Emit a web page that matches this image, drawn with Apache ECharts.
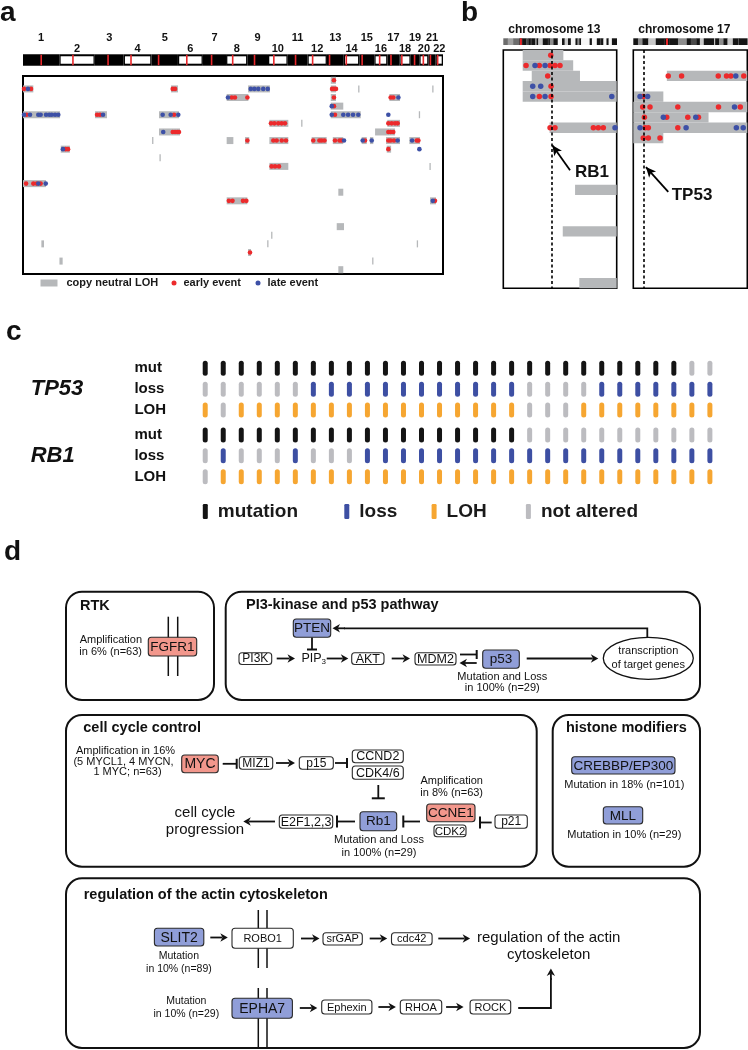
<!DOCTYPE html>
<html><head><meta charset="utf-8">
<script src="https://cdn.jsdelivr.net/npm/echarts@6/dist/echarts.min.js"></script>
<style>html,body{margin:0;padding:0;background:#fff}#c{width:748px;height:1050px}</style>
</head><body><div id="c"></div>
<script>
const FONT = "'Liberation Sans', Arial, Helvetica, sans-serif";

// ---------------- Panel a data ----------------
const chromNames = ['1','2','3','4','5','6','7','8','9','10','11','12','13','14','15','16','17','18','19','20','21','22'];
const chromLengths = [249.3,243.2,198.0,191.2,180.9,171.1,159.1,146.4,141.2,135.5,135.0,133.9,115.2,107.3,102.5,90.4,81.2,78.1,59.1,63.0,48.1,51.3];
const centromeres = [125,93.3,91,50.4,48.4,61,59.9,45.6,49,40.2,53.7,35.8,17.9,17.6,19,36.6,24,17.2,26.5,27.5,13.2,14.7];
const sampleCount = 23;
// [row, startMb, endMb] genome-wide cumulative Mb
const lohA = [
 [0,2111,2147],[1,2111,2147],[2,2111,2147],[3,2111,2197],[4,2111,2317],
 [1,0,71],[1,1015,1063],[1,1544,1694],[1,2300,2307],[1,2808,2815],
 [2,1397,1546],[2,2513,2586],
 [4,0,254],[4,494,576],[4,933,1070],[4,2716,2723],
 [5,1690,1820],[5,1909,1916],[5,2499,2586],
 [6,933,1077],[6,2415,2552],
 [7,887,893],[7,1397,1443],[7,1523,1552],[7,1690,1820],[7,1980,2083],[7,2125,2197],[7,2323,2358],[7,2380,2403],[7,2490,2586],[7,2650,2723],
 [8,259,322],[8,2495,2525],
 [9,937,944],
 [10,1690,1820],[10,2789,2796],
 [12,0,158],
 [13,2163,2197],
 [14,1397,1539],[14,2792,2833],
 [17,2152,2202],
 [18,1703,1710],
 [19,126,144],[19,1676,1683],[19,2702,2709],
 [20,1544,1564],
 [21,250,272],[21,2396,2403],
 [22,2163,2197]
];
// [row, Mb]
const earlyA = [
 [0,2133],
 [1,7],[1,55],[1,1027],[1,1043],[1,2120],[1,2133],[1,2147],
 [2,1432],[2,1454],[2,1539],[2,2133],[2,2522],[2,2540],
 [3,2133],
 [4,25],[4,508],[4,528],[4,1036],[4,2140],
 [5,1701],[5,1724],[5,1751],[5,1774],[5,1797],[5,2506],[5,2529],[5,2552],[5,2570],
 [6,1027],[6,1043],[6,1058],[6,1070],[6,2506],[6,2522],[6,2540],
 [7,1539],[7,1717],[7,1740],[7,1775],[7,1804],[7,1991],[7,2033],[7,2049],[7,2068],[7,2140],[7,2171],[7,2186],[7,2346],[7,2506],[7,2522],[7,2545],[7,2701],[7,2712],
 [8,292],[8,309],[8,2506],
 [10,1705],[10,1729],[10,1756],
 [12,21],[12,71],[12,94],[12,121],
 [14,1412],[14,1437],[14,1509],[14,1532],[14,2826],
 [20,1557]
];
const lateA = [
 [1,34],[1,1562],[1,1587],[1,1614],[1,1648],[1,1679],
 [2,1406],[2,2575],
 [3,2118],
 [4,7],[4,48],[4,105],[4,121],[4,158],[4,180],[4,197],[4,220],[4,242],[4,549],[4,958],[4,1013],[4,1065],[4,2118],[4,2197],[4,2230],[4,2264],[4,2300],[4,2506],
 [6,962],
 [7,2202],[7,2330],[7,2392],[7,2570],[7,2669],
 [8,274],[8,2719],
 [12,105],[12,156],
 [14,2811]
];

// ---------------- Panel b data ----------------
const rb1Pos = 48.9, tp53Pos = 7.6;
const chr13Length = 115.2, chr17Length = 81.2;
const stainNames = ['gneg','gpos25','gpos50','gpos75','gpos100','gvar','stalk','acen'];
const chr13Bands = [[0,4.5,'gvar'],[4.5,10,'stalk'],[10,16.3,'gvar'],[16.3,19.5,'acen'],[19.5,23.3,'gneg'],[23.3,25.5,'gpos25'],[25.5,27.8,'gneg'],[27.8,28.9,'gpos25'],[28.9,32.2,'gneg'],[32.2,34,'gpos50'],[34,35.5,'gneg'],[35.5,40.1,'gpos75'],[40.1,45.2,'gneg'],[45.2,45.8,'gpos25'],[45.8,47.3,'gneg'],[47.3,50.9,'gpos50'],[50.9,55.3,'gneg'],[55.3,59.6,'gpos100'],[59.6,62.3,'gneg'],[62.3,65.7,'gpos75'],[65.7,68.6,'gneg'],[68.6,73.3,'gpos100'],[73.3,75.4,'gneg'],[75.4,77.2,'gpos50'],[77.2,79,'gneg'],[79,87.7,'gpos100'],[87.7,90,'gneg'],[90,95,'gpos100'],[95,98.2,'gneg'],[98.2,99.3,'gpos25'],[99.3,101.7,'gneg'],[101.7,104.8,'gpos100'],[104.8,107,'gneg'],[107,110.3,'gpos100'],[110.3,115.2,'gneg']];
const chr17Bands = [[0,3.3,'gneg'],[3.3,6.5,'gpos50'],[6.5,10.7,'gneg'],[10.7,16,'gpos75'],[16,22.2,'gneg'],[22.2,25.8,'acen'],[25.8,31.8,'gneg'],[31.8,38.1,'gpos50'],[38.1,40.9,'gneg'],[40.9,44.9,'gpos25'],[44.9,47.4,'gneg'],[47.4,50.2,'gpos75'],[50.2,57.6,'gneg'],[57.6,58.3,'gpos75'],[58.3,61.1,'gneg'],[61.1,64.2,'gpos50'],[64.2,67.1,'gneg'],[67.1,70.9,'gpos75'],[70.9,74.8,'gneg'],[74.8,75.3,'gpos25'],[75.3,81.2,'gneg']];
const loh13 = [[0,19.7,61],[1,19.7,71],[2,28.9,77.9],[3,19.7,115.2],[4,19.7,115.2],[7,47,115.2],[13,72.9,115.2],[17,60.4,115.2],[22,77.2,115.2]];
const early13 = [[0,48.2],[1,23.1],[1,36.6],[1,47.5],[1,52.5],[1,57.6],[2,45.1],[3,48.5],[4,36.6],[4,48.5],[7,47.5],[7,52.5],[7,91.5],[7,96.5],[7,101.6]];
const late13 = [[1,32.2],[1,42.4],[3,29.9],[3,38],[4,29.9],[4,42.4],[4,110.2],[7,113.5]];
const loh17 = [[2,23.9,81.2],[4,0.5,21.4],[5,0,81.2],[6,0,53.6],[7,0,81.2],[8,0,21.4]];
const early17 = [[2,24.9],[2,34.4],[2,60.5],[2,66.4],[2,69.5],[2,78.7],[4,7.1],[5,6.7],[5,11.9],[5,31.7],[5,60.7],[5,76.2],[6,7.9],[6,23.8],[6,38.8],[6,46.4],[7,8.4],[7,10.7],[7,31.7],[8,7.1],[8,10.7],[8,19]];
const late17 = [[2,73],[4,4.8],[4,10.2],[5,72.1],[6,21.4],[6,44.5],[7,4.8],[7,37.6],[7,73.4],[7,78.3]];

// ---------------- Panel c data ----------------
const cColumns = 29;
const tp53Mut  = [1,1,1,1,1,1,1,1,1,1,1,1,1,1,1,1,1,1,1,1,1,1,1,1,1,1,1,0,0];
const tp53Loss = [0,0,0,0,0,0,1,1,1,1,1,1,1,1,1,1,1,1,0,0,0,0,1,1,1,1,1,1,1];
const tp53LOH  = [1,0,1,1,1,1,1,1,1,1,1,1,1,1,1,1,1,1,0,0,0,1,1,1,1,1,1,1,1];
const rb1Mut   = [1,1,1,1,1,1,1,1,1,1,1,1,1,1,1,1,1,1,0,0,0,0,0,0,0,0,0,0,0];
const rb1Loss  = [0,1,0,0,0,1,0,0,0,1,1,1,1,1,1,1,1,1,1,1,1,1,1,1,1,1,1,1,1];
const rb1LOH   = [0,1,1,1,1,1,1,1,1,1,1,1,1,1,1,1,1,1,1,1,1,1,1,1,1,1,1,1,1];
const cRowLabels = ['mut','loss','LOH','mut','loss','LOH'];
const cRowKinds  = ['mutation','loss','LOH','mutation','loss','LOH'];
const cRowPos    = [0,1,2,3.2,4.2,5.2];

// ---------------- derived ----------------
const chromStart = []; let acc = 0;
chromLengths.forEach(l => { chromStart.push(acc); acc += l; });
const genomeLen = acc;
const ideoAData = chromLengths.map((l,i) => [chromStart[i], chromStart[i]+l, i, chromStart[i]+centromeres[i]]);
const bandColor = {gneg:'#151515', gpos25:'#4a4a4a', gpos50:'#8c8c8c', gpos75:'#c8c8c8', gpos100:'#f6f6f6', gvar:'#6c6c6c', stalk:'#a0a0a0', acen:'#151515'};
const bandData = b => b.map(d => [d[0], d[1], stainNames.indexOf(d[2])]);
const dots = arr => arr.map(d => [d[1], d[0] + 0.5]);

const RED_DOT = '#ec2a2c', BLUE_DOT = '#3d50a6', LOH_GRAY = '#b6b8ba';

function txtStyle(text, size, bold, align) {
  return {text, fontSize:size, fontFamily:FONT, fontWeight: bold?'bold':'normal', fill:'#111',
    align: align||'left', verticalAlign:'middle', textAlign: align||'left', textVerticalAlign:'middle'};
}

function ideoARender(params, api) {
  const s = api.value(0), e = api.value(1), idx = api.value(2), cen = api.value(3);
  const p1 = api.coord([s,1]), p2 = api.coord([e,0]);
  const x = p1[0], y = p1[1], w = p2[0]-p1[0], h = p2[1]-p1[1];
  const ch = [{type:'rect', shape:{x, y, width:w, height:h}, style:{fill:'#000'}}];
  if (idx % 2 === 1) ch.push({type:'rect', shape:{x:x+1.3, y:y+2, width:w-2.6, height:h-4}, style:{fill:'#fff'}});
  const cx = api.coord([cen,0])[0];
  ch.push({type:'rect', shape:{x:cx-0.8, y:y+0.5, width:1.6, height:h-1}, style:{fill:'#e8262a'}});
  const num = idx + 1;
  ch.push({type:'text', x:x+w/2, y: y - (num % 2 === 1 ? 16.6 : 5), style: txtStyle(chromNames[idx], 11, true, 'center')});
  return {type:'group', children:ch};
}
function ideoBRender(params, api) {
  const s = api.value(0), e = api.value(1), k = stainNames[api.value(2)];
  const p1 = api.coord([s,1]), p2 = api.coord([e,0]);
  const ch = [{type:'rect', shape:{x:p1[0], y:p1[1], width:p2[0]-p1[0]+0.3, height:p2[1]-p1[1]}, style:{fill:bandColor[k]}}];
  if (k === 'acen') {
    const cx = (p1[0]+p2[0])/2;
    ch.push({type:'rect', shape:{x:cx-1, y:p1[1], width:2, height:p2[1]-p1[1]}, style:{fill:'#e8262a'}});
  }
  return {type:'group', children:ch};
}
function lohRender(inset, minW) {
  return function(params, api) {
    const r = api.value(0), s = api.value(1), e = api.value(2);
    const p1 = api.coord([s, r]), p2 = api.coord([e, r+1]);
    let x = p1[0], w = p2[0]-p1[0];
    if (w < minW) { x -= (minW-w)/2; w = minW; }
    return {type:'rect', shape:{x, y:p1[1]+inset, width:w, height:p2[1]-p1[1]-2*inset}, style:{fill:LOH_GRAY}};
  };
}
function pillRender(params, api) {
  const p = api.coord([api.value(0), api.value(1)]);
  return {type:'rect', shape:{x:p[0]-2.5, y:p[1]-7.5, width:5, height:15, r:2.5}, style:{fill:api.visual('color')}};
}

// panel c series data
const cRowsData = [tp53Mut, tp53Loss, tp53LOH, rb1Mut, rb1Loss, rb1LOH];
const cSeriesData = {mutation:[], loss:[], LOH:[], 'not altered':[]};
cRowsData.forEach((row, ri) => row.forEach((v, ci) => {
  cSeriesData[v ? cRowKinds[ri] : 'not altered'].push([ci, cRowPos[ri]]);
}));
const cColors = {mutation:'#141414', loss:'#3d4fa3', LOH:'#f6a631', 'not altered':'#bcbcc0'};

// ---------------- graphic (labels + panel d diagram) ----------------
const G = [];
const RED = '#f2978c', BLUE = '#909ed8';
function txt(x, y, s, size, o) {
  o = o || {};
  const st = txtStyle(s, size, o.bold, o.align);
  if (o.italic) st.fontStyle = 'italic';
  G.push({type:'text', x, y, z:30, style:st});
}
function ln(x1,y1,x2,y2,lw) { G.push({type:'line', z:20, shape:{x1,y1,x2,y2}, style:{stroke:'#111', lineWidth:lw||1.8}}); }
function arr(x1,y1,x2,y2) {
  const dx=x2-x1, dy=y2-y1, L=Math.hypot(dx,dy), ux=dx/L, uy=dy/L, hl=7.5, hw=4.2;
  const bx=x2-ux*hl, by=y2-uy*hl;
  ln(x1,y1,bx+ux*2,by+uy*2);
  G.push({type:'polygon', z:20, shape:{points:[[x2,y2],[bx-uy*hw,by+ux*hw],[bx+ux*2.2,by+uy*2.2],[bx+uy*hw,by-ux*hw]]}, style:{fill:'#111'}});
}
function inh(x1,y1,x2,y2,b) {
  const dx=x2-x1, dy=y2-y1, L=Math.hypot(dx,dy), ux=dx/L, uy=dy/L;
  b = b || 5;
  ln(x1,y1,x2,y2);
  ln(x2-uy*b, y2+ux*b, x2+uy*b, y2-ux*b, 2);
}
function box(x,y,w,h,fill,label,size) {
  G.push({type:'rect', z:25, shape:{x,y,width:w,height:h,r:3}, style:{fill, stroke:'#2a2a2a', lineWidth:1.1}});
  txt(x+w/2, y+h/2+0.5, label, size, {align:'center'});
}
function panelBox(x,y,w,h) { G.push({type:'rect', z:5, shape:{x,y,width:w,height:h,r:16}, style:{fill:'rgba(0,0,0,0)', stroke:'#111', lineWidth:2}}); }

// panel letters & titles
txt(0,13,'a',28,{bold:true}); txt(461,13.5,'b',28,{bold:true}); txt(6,332,'c',28,{bold:true}); txt(4,552,'d',28,{bold:true});
txt(508.3,30,'chromosome 13',12,{bold:true}); txt(638.3,30,'chromosome 17',12,{bold:true});
txt(575,172,'RB1',17,{bold:true}); txt(671.7,195,'TP53',17,{bold:true});
txt(30.7,389,'TP53',22,{bold:true,italic:true}); txt(30.7,456,'RB1',22,{bold:true,italic:true});

// panel d
panelBox(66,591.7,148,108.3);
panelBox(225.7,591.7,474.3,108.3);
panelBox(66,715,470.7,151.7);
panelBox(552.7,715,147.3,151.7);
panelBox(66,878.3,634,169.7);
txt(80,606,'RTK',14.5,{bold:true});
txt(246,605,'PI3-kinase and p53 pathway',14.5,{bold:true});
txt(83.3,728.3,'cell cycle control',14.5,{bold:true});
txt(626.3,728.3,'histone modifiers',14.5,{bold:true,align:'center'});
txt(83.7,895,'regulation of the actin cytoskeleton',14.5,{bold:true});

// RTK
ln(168.3,616.7,168.3,676,1.5); ln(177.7,616.7,177.7,676,1.5);
box(148.3,637.3,48.4,18.7,RED,'FGFR1',13.5);
txt(142,640,'Amplification',11,{align:'right'}); txt(142,652,'in 6% (n=63)',11,{align:'right'});

// PI3K / p53
box(293.3,619,37.4,18.3,BLUE,'PTEN',13.5);
inh(312,637.3,312,649.5,5);
box(239,652.7,32.7,11.8,'#fff','PI3K',12);
arr(276.7,658.5,295,658.5);
txt(301.5,658.5,'PIP',12.5); txt(321.5,662,'3',8);
arr(326.7,658.5,348.3,658.5);
box(351.7,652.7,32.3,11.8,'#fff','AKT',12.5);
arr(391.7,658.5,410,658.5);
box(415,652.7,41,12.3,'#fff','MDM2',12.5);
inh(460,654.5,476.7,654.5,4.5);
arr(476.7,663,459.5,663);
box(482.7,650,36.6,18.3,BLUE,'p53',13.5);
arr(526.7,658.5,598.3,658.5);
G.push({type:'ellipse', z:20, shape:{cx:648.3, cy:658.3, rx:45, ry:21}, style:{fill:'#fff', stroke:'#111', lineWidth:1.3}});
txt(648.3,651,'transcription',11,{align:'center'}); txt(648.3,665,'of target genes',11,{align:'center'});
G.push({type:'polyline', z:20, shape:{points:[[647.3,637.3],[647.3,628.3],[344,628.3]]}, style:{stroke:'#111', lineWidth:1.8, fill:null}});
arr(345,628.3,332.5,628.3);
txt(502.3,676.7,'Mutation and Loss',11,{align:'center'}); txt(502.3,688.3,'in 100% (n=29)',11,{align:'center'});

// cell cycle
txt(125.5,751,'Amplification in 16%',11,{align:'center'});
txt(123.5,761.7,'(5 MYCL1, 4 MYCN,',11,{align:'center'});
txt(127.5,771.7,'1 MYC; n=63)',11,{align:'center'});
box(181.7,755,36.6,17.7,RED,'MYC',14);
inh(222.7,763.8,236.7,763.8,5);
box(239.3,756.7,33.4,12.6,'#fff','MIZ1',12);
arr(276,763,295,763);
box(299.3,756.7,34,12.6,'#fff','p15',12);
inh(335,763,347,763,5);
box(352.3,750,51,12.7,'#fff','CCND2',12.5);
box(352.3,766,51,13.3,'#fff','CDK4/6',12.5);
inh(378.3,785,378.3,798.3,6.5);
box(360,811.7,36.7,19,BLUE,'Rb1',13.5);
txt(379,840,'Mutation and Loss',11,{align:'center'}); txt(379,853.3,'in 100% (n=29)',11,{align:'center'});
inh(355,821.5,337,821.5,6);
box(279.3,815,53.4,13.3,'#fff','E2F1,2,3',12.5);
arr(275,821.5,243.3,821.5);
txt(205,812.7,'cell cycle',15,{align:'center'}); txt(205,830,'progression',15,{align:'center'});
inh(420,821.5,403.3,821.5,6);
box(426.7,804,48.3,17.7,RED,'CCNE1',13.5);
box(434,825,32,11.7,'#fff','CDK2',11.5);
inh(491.7,822.5,480,822.5,6);
box(495,815,32.3,13.3,'#fff','p21',12);
txt(451.7,780.7,'Amplification',11,{align:'center'}); txt(451.7,792.7,'in 8% (n=63)',11,{align:'center'});

// histone modifiers
box(571.7,756.7,103.3,17.3,BLUE,'CREBBP/EP300',13.5);
txt(624.3,784.7,'Mutation in 18% (n=101)',11,{align:'center'});
box(603.3,806.7,39.4,17.3,BLUE,'MLL',13.5);
txt(624.3,835,'Mutation in 10% (n=29)',11,{align:'center'});

// actin
ln(258.3,910,258.3,968,1.5); ln(267,910,267,968,1.5); ln(258.3,988,258.3,1047,1.5); ln(267,988,267,1047,1.5);
box(154.4,928.3,49.4,17.7,BLUE,'SLIT2',14);
txt(178.9,956,'Mutation',10.5,{align:'center'}); txt(178.9,969.3,'in 10% (n=89)',10.5,{align:'center'});
arr(210.3,937.5,227.8,937.5);
box(232,928.3,61.3,20,'#fff','ROBO1',11);
arr(301,938.5,319.5,938.5);
box(323,932.7,39.3,12.3,'#fff','srGAP',11);
arr(369.7,938.5,387.2,938.5);
box(391.5,932.7,40.6,12.3,'#fff','cdc42',11);
arr(438.3,938.5,470.1,938.5);
txt(548.7,938.3,'regulation of the actin',15,{align:'center'}); txt(548.7,955,'cytoskeleton',15,{align:'center'});
txt(186.3,1000.7,'Mutation',10.5,{align:'center'}); txt(186.3,1014,'in 10% (n=29)',10.5,{align:'center'});
box(232,998.3,60.4,20,BLUE,'EPHA7',14);
arr(299.8,1008,317.3,1008);
box(321.7,1000,50.2,14,'#fff','Ephexin',11);
arr(378.4,1007,395.9,1007);
box(400.3,1000,41.4,14,'#fff','RHOA',11);
arr(446.1,1007,463.6,1007);
box(470.1,1000,40.6,14,'#fff','ROCK',11);
G.push({type:'polyline', z:20, shape:{points:[[518.2,1008],[550.9,1008],[550.9,978]]}, style:{stroke:'#111', lineWidth:1.8, fill:null}});
arr(550.9,980,550.9,968.5);

// ---------------- option ----------------
const hidden = {show:false};
const legendText = (size, pad) => ({fontSize:size, fontWeight:'bold', color:'#1a1a1a', fontFamily:FONT, padding:[0,0,0,pad]});
const markLine13 = {
  silent:true, animation:false, symbol:['none','none'], label:{show:false},
  lineStyle:{color:'#000', type:[3,2.5], width:1.6},
  data:[
    {xAxis: rb1Pos},
    [{coord:[67.8,11.6], symbol:'none', lineStyle:{type:'solid', width:1.8, color:'#000'}},
     {coord:[49.8,9.2], symbol:'arrow', symbolSize:[7,10], lineStyle:{type:'solid', width:1.8, color:'#000'}}]
  ]
};
const markLine17 = {
  silent:true, animation:false, symbol:['none','none'], label:{show:false},
  lineStyle:{color:'#000', type:[3,2.5], width:1.6},
  data:[
    {xAxis: tp53Pos},
    [{coord:[24.9,13.7], symbol:'none', lineStyle:{type:'solid', width:1.8, color:'#000'}},
     {coord:[9.0,11.3], symbol:'arrow', symbolSize:[7,10], lineStyle:{type:'solid', width:1.8, color:'#000'}}]
  ]
};

const option = {
  animation:false,
  backgroundColor:'#fff',
  textStyle:{fontFamily:FONT},
  grid:[
    {left:23, top:54.3, width:420, height:11.4},
    {left:23, top:76, width:420, height:198, show:true, borderColor:'#000', borderWidth:2, backgroundColor:'transparent'},
    {left:503.3, top:38.3, width:113.4, height:6.7},
    {left:503.3, top:50, width:113.4, height:238.3, show:true, borderColor:'#000', borderWidth:1.6, backgroundColor:'transparent'},
    {left:633.3, top:38.3, width:114, height:6.7},
    {left:633.3, top:50, width:114, height:238.3, show:true, borderColor:'#000', borderWidth:1.6, backgroundColor:'transparent'},
    {left:196.2, top:357.9, width:522.7, height:129.2}
  ],
  xAxis:[
    {gridIndex:0, type:'value', min:0, max:genomeLen, show:false},
    {gridIndex:1, type:'value', min:0, max:genomeLen, show:false},
    {gridIndex:2, type:'value', min:0, max:chr13Length, show:false},
    {gridIndex:3, type:'value', min:0, max:chr13Length, show:false},
    {gridIndex:4, type:'value', min:0, max:chr17Length, show:false},
    {gridIndex:5, type:'value', min:0, max:chr17Length, show:false},
    {gridIndex:6, type:'value', min:-0.5, max:cColumns-0.5, show:false}
  ],
  yAxis:[
    {gridIndex:0, type:'value', min:0, max:1, show:false},
    {gridIndex:1, type:'value', min:0, max:sampleCount, inverse:true, show:false},
    {gridIndex:2, type:'value', min:0, max:1, show:false},
    {gridIndex:3, type:'value', min:0, max:sampleCount, inverse:true, show:false},
    {gridIndex:4, type:'value', min:0, max:1, show:false},
    {gridIndex:5, type:'value', min:0, max:sampleCount, inverse:true, show:false},
    {gridIndex:6, type:'value', min:-0.5, max:5.7, inverse:true,
      axisLine:{show:false}, axisTick:{show:false}, splitLine:{show:false},
      axisLabel:{customValues:cRowPos, formatter: v => { const i = cRowPos.indexOf(v); return i >= 0 ? cRowLabels[i] : ''; },
        align:'left', margin:61.8, fontSize:15, fontWeight:'bold', color:'#111', fontFamily:FONT}}
  ],
  legend:[
    {left:40.5, top:277.5, padding:0, itemWidth:17, itemHeight:7, selectedMode:false, data:[{name:'copy neutral LOH', icon:'rect'}], textStyle:legendText(11,4)},
    {left:171.5, top:277.5, padding:0, itemWidth:5, itemHeight:5, selectedMode:false, data:[{name:'early event', icon:'circle'}], textStyle:legendText(11,2)},
    {left:255.5, top:277.5, padding:0, itemWidth:5, itemHeight:5, selectedMode:false, data:[{name:'late event', icon:'circle'}], textStyle:legendText(11,2)},
    {left:202.8, top:502, padding:0, itemWidth:5, itemHeight:15, selectedMode:false, data:[{name:'mutation', icon:'roundRect'}], textStyle:legendText(19,5)},
    {left:344.3, top:502, padding:0, itemWidth:5, itemHeight:15, selectedMode:false, data:[{name:'loss', icon:'roundRect'}], textStyle:legendText(19,5)},
    {left:431.6, top:502, padding:0, itemWidth:5, itemHeight:15, selectedMode:false, data:[{name:'LOH', icon:'roundRect'}], textStyle:legendText(19,5)},
    {left:525.9, top:502, padding:0, itemWidth:5, itemHeight:15, selectedMode:false, data:[{name:'not altered', icon:'roundRect'}], textStyle:legendText(19,5)}
  ],
  series:[
    {type:'custom', name:'ideogram', xAxisIndex:0, yAxisIndex:0, renderItem:ideoARender, data:ideoAData, encode:{x:[0,1]}, silent:true, clip:false},
    {type:'custom', name:'copy neutral LOH', xAxisIndex:1, yAxisIndex:1, renderItem:lohRender(0.8,1.3), data:lohA, encode:{x:[1,2], y:0}, itemStyle:{color:LOH_GRAY}, z:1, silent:true},
    {type:'scatter', name:'early event', xAxisIndex:1, yAxisIndex:1, data:dots(earlyA), symbolSize:4.6, itemStyle:{color:RED_DOT, opacity:1}, z:3, silent:true},
    {type:'scatter', name:'late event', xAxisIndex:1, yAxisIndex:1, data:dots(lateA), symbolSize:4.6, itemStyle:{color:BLUE_DOT, opacity:1}, z:4, silent:true},

    {type:'custom', name:'ideogram13', xAxisIndex:2, yAxisIndex:2, renderItem:ideoBRender, data:bandData(chr13Bands), encode:{x:[0,1]}, silent:true},
    {type:'custom', name:'copy neutral LOH', xAxisIndex:3, yAxisIndex:3, renderItem:lohRender(0,1.3), data:loh13, encode:{x:[1,2], y:0}, itemStyle:{color:LOH_GRAY}, z:1, silent:true},
    {type:'scatter', name:'early event', xAxisIndex:3, yAxisIndex:3, data:dots(early13), symbolSize:5.5, itemStyle:{color:RED_DOT, opacity:1}, z:3, silent:true, markLine:markLine13},
    {type:'scatter', name:'late event', xAxisIndex:3, yAxisIndex:3, data:dots(late13), symbolSize:5.5, itemStyle:{color:BLUE_DOT, opacity:1}, z:4, silent:true},

    {type:'custom', name:'ideogram17', xAxisIndex:4, yAxisIndex:4, renderItem:ideoBRender, data:bandData(chr17Bands), encode:{x:[0,1]}, silent:true},
    {type:'custom', name:'copy neutral LOH', xAxisIndex:5, yAxisIndex:5, renderItem:lohRender(0,1.3), data:loh17, encode:{x:[1,2], y:0}, itemStyle:{color:LOH_GRAY}, z:1, silent:true},
    {type:'scatter', name:'early event', xAxisIndex:5, yAxisIndex:5, data:dots(early17), symbolSize:5.5, itemStyle:{color:RED_DOT, opacity:1}, z:3, silent:true, markLine:markLine17},
    {type:'scatter', name:'late event', xAxisIndex:5, yAxisIndex:5, data:dots(late17), symbolSize:5.5, itemStyle:{color:BLUE_DOT, opacity:1}, z:4, silent:true},

    ...['mutation','loss','LOH','not altered'].map(k => ({
      type:'custom', name:k, xAxisIndex:6, yAxisIndex:6, renderItem:pillRender, data:cSeriesData[k],
      encode:{x:0, y:1}, itemStyle:{color:cColors[k]}, silent:true
    }))
  ],
  graphic:{elements:G}
};

const chart = echarts.init(document.getElementById('c'), null, {renderer:'canvas'});
chart.setOption(option);
</script></body></html>
